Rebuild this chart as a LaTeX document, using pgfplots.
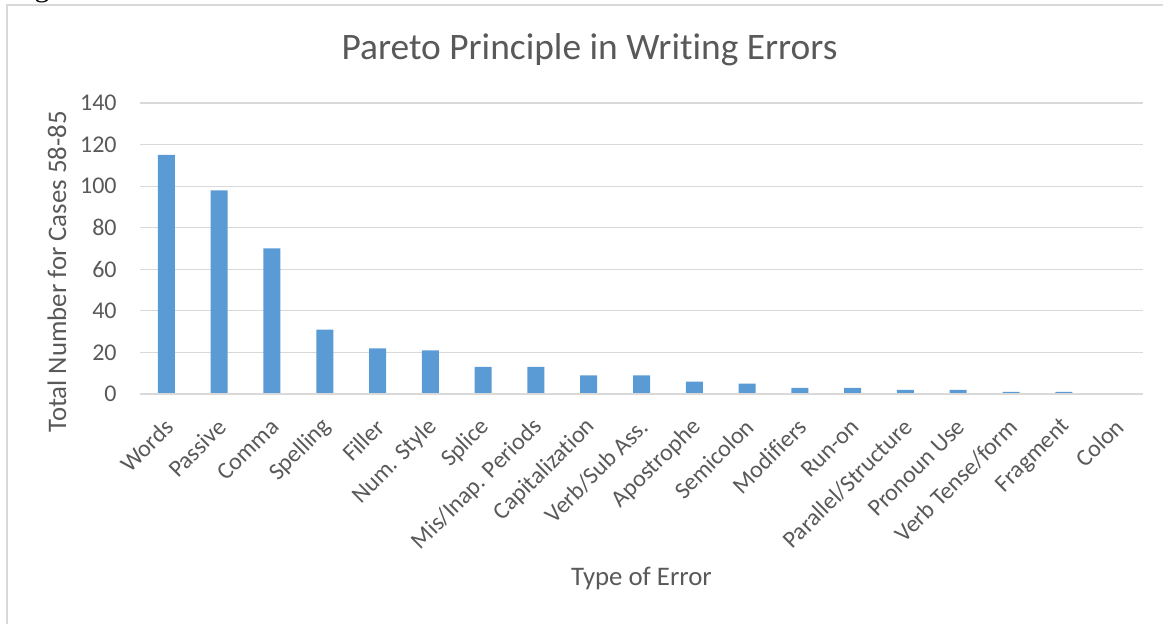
\documentclass[border=0pt]{standalone}
\usepackage{fontspec}
\setmainfont{Carlito}[Ligatures=NoCommon]
\newfontfamily\seriffont{Liberation Serif}
\usepackage{pgfplots}
\pgfplotsset{compat=1.18}
\definecolor{barblue}{HTML}{5B9BD5}
\definecolor{txtgray}{HTML}{595959}
\definecolor{gridgray}{HTML}{D9D9D9}
\begin{document}
\begin{tikzpicture}[x=1pt,y=1pt]
\useasboundingbox (0,0) rectangle (581.5,312);
\draw[gridgray, line width=1pt] (3.5,-20) -- (3.5,309.5) -- (600,309.5);
\node[anchor=base, inner sep=0pt, font=\seriffont\fontsize{15}{18}\selectfont] at (21,313.6) {g};
\begin{axis}[
  at={(70pt,115pt)}, anchor=south west,
  scale only axis, width=501.5pt, height=145.5pt,
  xmin=-0.5, xmax=18.5, ymin=0, ymax=140,
  ytick={0,20,...,140},
  xtick={0,...,18},
  xticklabels={Words,Passive,Comma,Spelling,Filler,Num. Style,Splice,Mis/Inap. Periods,Capitalization,Verb/Sub Ass.,Apostrophe,Semicolon,Modifiers,Run-on,Parallel/Structure,Pronoun Use,Verb Tense/form,Fragment,Colon},
  axis line style={draw=none},
  axis x line*=bottom, axis y line*=left,
  major tick length=0pt,
  ymajorgrids, grid style={gridgray, line width=0.6pt},
  tick label style={font=\fontsize{12}{14}\selectfont, text=txtgray},
  /pgf/number format/assume math mode=true,
  y tick label style={anchor=east, inner sep=0pt, xshift=-11.5pt},
  x tick label style={xshift=1.5pt, yshift=-14.5pt, rotate=45, anchor=east, inner sep=0pt},
  clip=false,
]
\addplot[ybar, bar width=8.5pt, fill=barblue, draw=none] coordinates {
(0,115) (1,98) (2,70) (3,31) (4,22) (5,21) (6,13) (7,13) (8,9) (9,9)
(10,6) (11,5) (12,3) (13,3) (14,2) (15,2) (16,1) (17,1) (18,0)};
\draw[gridgray, line width=1pt] (axis cs:-0.5,0) -- (axis cs:18.5,0);
\end{axis}
\node[text=txtgray, font=\fontsize{18.7}{22}\selectfont] at (294.75,287) {Pareto Principle in Writing Errors};
\node[text=txtgray, font=\fontsize{13.4}{16}\selectfont, rotate=90] at (28.5,176) {Total Number for Cases 58-85};
\node[text=txtgray, font=\fontsize{13.4}{16}\selectfont] at (320.75,23) {Type of Error};
\end{tikzpicture}
\end{document}
